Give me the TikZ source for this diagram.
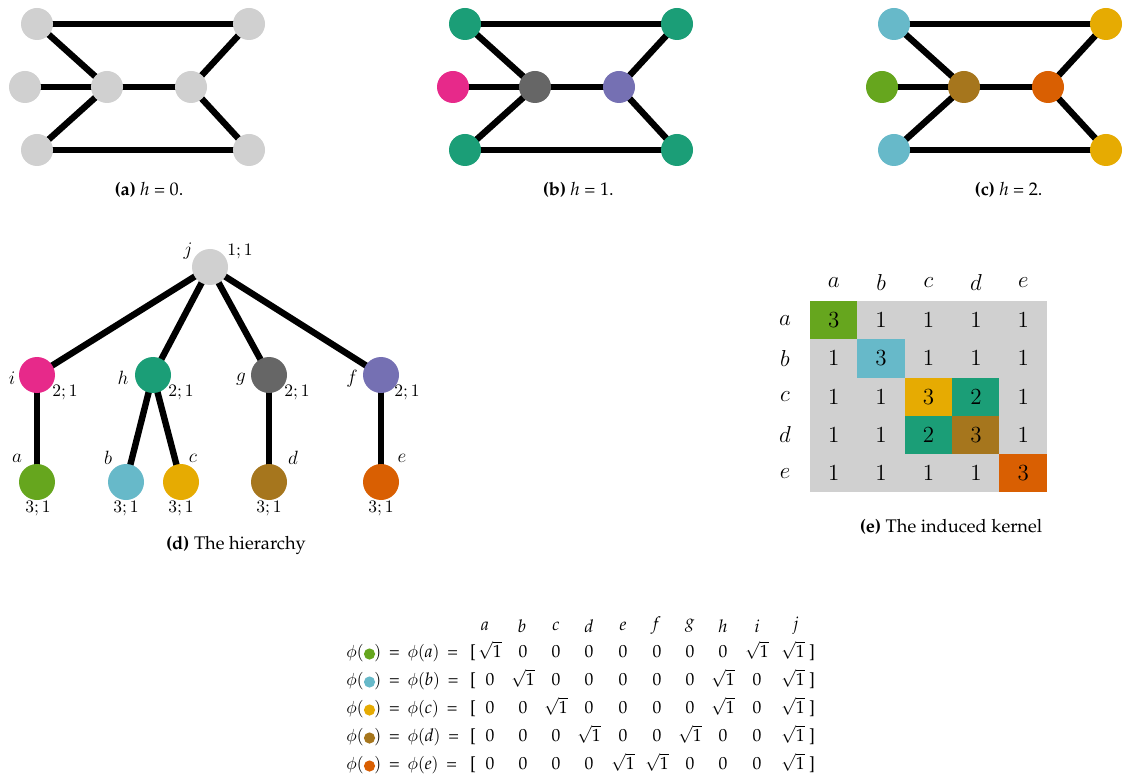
\documentclass[tikz,border=0pt]{standalone}
\usepackage[T1,TU]{fontenc}
\usepackage{amsmath}
\usepackage{tikz}
\usetikzlibrary{calc,backgrounds}
\definecolor{nodegrey}{HTML}{D0D0D0}
\definecolor{teal}{HTML}{1B9E77}
\definecolor{pink}{HTML}{E7298A}
\definecolor{slate}{HTML}{666666}
\definecolor{lilac}{HTML}{7570B3}
\definecolor{leafgreen}{HTML}{66A61E}
\definecolor{skyblue}{HTML}{67B9C9}
\definecolor{gold}{HTML}{E6AB02}
\definecolor{bronze}{HTML}{A6761D}
\definecolor{rust}{HTML}{D95F02}
\newcommand{\pplfont}{\fontencoding{T1}\fontfamily{ppl}\fontsize{11.4}{13}\selectfont}
\newcommand{\vecfont}{\fontencoding{T1}\fontfamily{ppl}\fontsize{11}{13}\selectfont}

\begin{document}
\begin{tikzpicture}[
    x=0.625pt, y=-0.625pt,
    vtx/.style={circle, minimum size=20pt, inner sep=0pt, outer sep=0pt},
    hnode/.style={circle, minimum size=22.5pt, inner sep=0pt, outer sep=0pt},
    link/.style={line width=4pt, color=black},
    nlbl/.style={font=\fontsize{13}{15}\selectfont, inner sep=0pt},
    cnt/.style={font=\fontsize{10.5}{12}\selectfont, inner sep=0pt},
    capt/.style={font=\pplfont, inner sep=0pt},
    cell/.style={rectangle, minimum width=29.8pt, minimum height=24pt,
                 inner sep=0pt, font=\Large},
    klbl/.style={font=\Large, inner sep=0pt},
    headlbl/.style={font=\vecfont, inner sep=0pt},
    entry/.style={font=\vecfont, inner sep=0pt, text height=7pt, text depth=2.2pt},
    cdot/.style={circle, minimum size=7pt, inner sep=0pt}
]
\useasboundingbox (0,0) rectangle (1127,782);

% --- (a)-(c): one graph, three colourings ---
\foreach \p/\dx/\ctl/\ctr/\cml/\cmc/\cmr/\cbl/\cbr/\h in {
    a/0/nodegrey/nodegrey/nodegrey/nodegrey/nodegrey/nodegrey/nodegrey/0,
    b/428/teal/teal/pink/slate/lilac/teal/teal/1,
    c/857/skyblue/gold/leafgreen/bronze/rust/skyblue/gold/2}{
  \node[vtx, fill=\ctl] (\p-tl) at (37+\dx, 24) {};
  \node[vtx, fill=\ctr] (\p-tr) at (249+\dx, 24) {};
  \node[vtx, fill=\cml] (\p-ml) at (25+\dx, 87) {};
  \node[vtx, fill=\cmc] (\p-mc) at (107+\dx, 87) {};
  \node[vtx, fill=\cmr] (\p-mr) at (191+\dx, 87) {};
  \node[vtx, fill=\cbl] (\p-bl) at (37+\dx, 150) {};
  \node[vtx, fill=\cbr] (\p-br) at (249+\dx, 150) {};
  \begin{scope}[on background layer]
    \draw[link] (\p-tl.center) -- (\p-tr.center);
    \draw[link] (\p-tl.center) -- (\p-mc.center);
    \draw[link] (\p-ml.center) -- (\p-mc.center);
    \draw[link] (\p-mc.center) -- (\p-bl.center);
    \draw[link] (\p-mc.center) -- (\p-mr.center);
    \draw[link] (\p-mr.center) -- (\p-tr.center);
    \draw[link] (\p-mr.center) -- (\p-br.center);
    \draw[link] (\p-bl.center) -- (\p-br.center);
  \end{scope}
  \node[capt] (\p-cap) at (149+\dx*1.003, 190) {\textbf{(\p)} \textit{h} = \h.};
}

% --- (d): the hierarchy ---
\node[hnode, fill=nodegrey]  (j) at (210,267) {};
\node[hnode, fill=pink]      (i) at (37,375) {};
\node[hnode, fill=teal]      (h) at (153,375) {};
\node[hnode, fill=slate]     (g) at (269,375) {};
\node[hnode, fill=lilac]     (f) at (381,375) {};
\node[hnode, fill=leafgreen] (a) at (37,482) {};
\node[hnode, fill=skyblue]   (b) at (126,482) {};
\node[hnode, fill=gold]      (c) at (181,482) {};
\node[hnode, fill=bronze]    (d) at (269,482) {};
\node[hnode, fill=rust]      (e) at (381,482) {};

\begin{scope}[on background layer]
  \foreach \u/\v in {j/i, j/h, j/g, j/f, i/a, h/b, h/c, g/d, f/e}
    \draw[link] (\u.center) -- (\v.center);
\end{scope}

\foreach \n/\lx/\ly/\cx/\cy/\w in {j/-22/-16/30/-15/1, i/-25/3/28/18/2,
    h/-30/3/28/18/2, g/-28/4/28/18/2, f/-29/4/26/18/2, a/-20/-24/1/27/3,
    b/-18/-24/0/27/3, c/12/-24/0/27/3, d/24/-24/0/27/3, e/21/-24/0/27/3}{
  \node[nlbl] (\n-name) at ($(\n)+(\lx,\ly)$) {$\n$};
  \node[cnt]  (\n-lvl)  at ($(\n)+(\cx,\cy)$) {$\w;1$};
}

\node[capt] (d-cap) at (236,545) {\textbf{(d)} The hierarchy};

% --- (e): the induced kernel ---
\foreach \r/\l/\dcol in {1/a/leafgreen, 2/b/skyblue, 3/c/gold, 4/d/bronze, 5/e/rust}{
  \node[klbl] (row-\l) at (785, 282.1+38.2*\r) {$\l$};
  \node[klbl] (col-\l) at (786.3+47.4*\r, 283) {$\l$};
  \foreach \c in {1,...,5}{
    \pgfmathtruncatemacro{\pr}{\r*\c}
    \ifnum\r=\c \def\kv{3}\def\kc{\dcol}
    \else\ifnum\pr=12 \def\kv{2}\def\kc{teal}
    \else \def\kv{1}\def\kc{nodegrey}\fi\fi
    \node[cell, fill=\kc] (k-\r-\c) at (786.3+47.4*\c, 282.1+38.2*\r) {$\kv$};
  }
}

\node[capt] (e-cap) at (951,527) {\textbf{(e)} The induced kernel};

% --- feature vectors ---
\foreach \hx/\l in {485/a,522/b,556/c,589/d,623/e,657/f,690/g,723/h,757/i,796/j}
  \node[headlbl] (head-\l) at (\hx, 626) {\textit{\l}};

\foreach \r/\v/\col/\one/\two in {1/a/leafgreen/1/9, 2/b/skyblue/2/8,
    3/c/gold/3/8, 4/d/bronze/4/7, 5/e/rust/5/6}{
  \node[entry, anchor=east] (phi-\v) at (364, 626+28*\r) {$\phi($};
  \node[cdot, fill=\col]    (dot-\v) at (369.5, 626+28*\r) {};
  \node[entry, anchor=west] (rhs-\v) at (374, 626+28*\r)
       {$)$\hspace{2.2pt} = \hspace{2.2pt}$\phi($\textit{\v}$)$\hspace{2.2pt} =};
  \node[entry] (open-\v) at (473, 626+28*\r) {[};
  \foreach \ex [count=\k] in {490,523,556,589,623,657,690,723,757,793}{
    \def\ev{0}
    \ifnum\k=\one \def\ev{$\sqrt{\mbox{1}}$}\fi
    \ifnum\k=\two \def\ev{$\sqrt{\mbox{1}}$}\fi
    \ifnum\k=10 \def\ev{$\sqrt{\mbox{1}}$}\fi
    \node[entry] (v-\v-\k) at (\ex, 626+28*\r) {\ev};
  }
  \node[entry] (close-\v) at (812, 626+28*\r) {]};
}

\end{tikzpicture}
\end{document}
